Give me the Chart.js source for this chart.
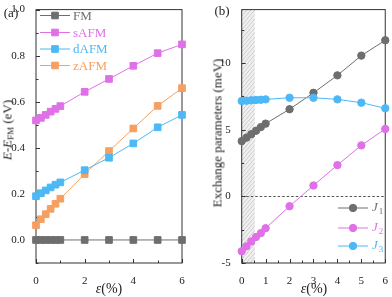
<!DOCTYPE html>
<html>
<head>
<meta charset="utf-8">
<script src="https://cdn.jsdelivr.net/npm/chart.js@4"></script>
<style>
body { margin: 0; background: #fff; width: 392px; height: 297px; overflow: hidden; position: relative; font-family: "Liberation Serif", serif; }
canvas { position: absolute; top: 0; }
#chartA { left: 0; }
#chartB { left: 196px; }
.t { position: absolute; font-size: 13px; color: #222; white-space: nowrap; transform: translate(-50%, -50%); line-height: 1; }
.rot { transform: translate(-50%, -50%) rotate(-90deg); }
sub { font-size: 9px; vertical-align: -2px; font-style: normal; }
</style>
</head>
<body>
<canvas id="chartA" width="196" height="297"></canvas>
<canvas id="chartB" width="196" height="297"></canvas>
<div class="t" style="left:11px;top:12px">(a)</div>
<div class="t" style="left:222px;top:10px">(b)</div>
<div class="t rot" style="left:8px;top:130px"><i>E</i>-<i>E</i><sub>FM</sub> (eV)</div>
<div class="t rot" style="left:217px;top:133px">Exchange parameters (meV)</div>
<div class="t" style="left:109px;top:289px;font-size:14px"><i>ε</i>(%)</div>
<div class="t" style="left:314px;top:289px;font-size:14px"><i>ε</i>(%)</div>
<script>
// strain values (%)
let strain = [0, 0.2, 0.4, 0.6, 0.8, 1, 2, 3, 4, 5, 6]
// (a) energy relative to FM (eV)
let fmE = [0, 0, 0, 0, 0, 0, 0, 0, 0, 0, 0]
let safmE = [0.519, 0.530, 0.543, 0.557, 0.569, 0.581, 0.643, 0.699, 0.756, 0.811, 0.849]
let dafmE = [0.190, 0.203, 0.215, 0.228, 0.240, 0.250, 0.303, 0.357, 0.419, 0.489, 0.543]
let zafmE = [0.064, 0.090, 0.112, 0.135, 0.157, 0.179, 0.286, 0.386, 0.484, 0.582, 0.659]
// (b) exchange parameters (meV)
let j1 = [4.14, 4.40, 4.66, 4.92, 5.19, 5.45, 6.53, 7.76, 9.07, 10.55, 11.70]
let j2 = [-4.12, -3.75, -3.38, -3.05, -2.76, -2.39, -0.74, 0.81, 2.34, 3.82, 5.05]
let j3 = [7.15, 7.17, 7.20, 7.22, 7.24, 7.27, 7.39, 7.39, 7.27, 7.02, 6.60]
let namesA = ['FM', 'sAFM', 'dAFM', 'zAFM']
let namesB = ['1', '2', '3']
let hatchEnd = 0.55

let gray = '#6e6e6e', pink = '#e070e8', blue = '#4cb8f5', orange = '#f5a060'
let tickFont = { family: 'Liberation Serif', size: 11 }

function pts(ys) {
    return ys.map((y, i) => ({ x: strain[i], y: y }))
}

function series(label, ys, color, style, r, order) {
    return {
        label: label, data: pts(ys), borderColor: color, backgroundColor: color,
        borderWidth: 1, pointStyle: style, pointRadius: r, pointHoverRadius: r,
        pointBorderWidth: 1, clip: false, order: order
    }
}

// frame plus inward tick marks
let frame = {
    id: 'frame',
    beforeDatasetsDraw(chart) {
        let { ctx, chartArea: a, scales } = chart
        ctx.save()
        ctx.strokeStyle = '#333'
        ctx.lineWidth = 1
        ctx.strokeRect(a.left, a.top, a.right - a.left, a.bottom - a.top)
        ctx.beginPath()
        scales.x.ticks.forEach(t => {
            let px = Math.round(scales.x.getPixelForValue(t.value)) + 0.5
            ctx.moveTo(px, a.bottom)
            ctx.lineTo(px, a.bottom - (t.label ? 4 : 2.5))
        })
        scales.y.ticks.forEach(t => {
            let py = Math.round(scales.y.getPixelForValue(t.value)) + 0.5
            ctx.moveTo(a.left, py)
            ctx.lineTo(a.left + (t.label ? 4 : 2.5), py)
        })
        ctx.stroke()
        ctx.restore()
    }
}

// hatched region and zero line for panel b
let shade = {
    id: 'shade',
    beforeDatasetsDraw(chart) {
        let { ctx, chartArea: a, scales: { x, y } } = chart
        let x0 = x.getPixelForValue(0), x1 = x.getPixelForValue(hatchEnd)
        ctx.save()
        ctx.fillStyle = '#f0f0f0'
        ctx.fillRect(x0, a.top, x1 - x0, a.bottom - a.top)
        ctx.beginPath()
        ctx.rect(x0, a.top, x1 - x0, a.bottom - a.top)
        ctx.clip()
        ctx.strokeStyle = '#bdbdbd'
        ctx.lineWidth = 0.7
        ctx.beginPath()
        for (let s = a.top - 20; s < a.bottom + 20; s += 4.5) {
            ctx.moveTo(x0 - 2, s + 20)
            ctx.lineTo(x1 + 2, s)
        }
        ctx.stroke()
        ctx.restore()
        ctx.save()
        let py = Math.round(y.getPixelForValue(0)) + 0.5
        ctx.strokeStyle = '#555'
        ctx.lineWidth = 1.2
        ctx.setLineDash([2.5, 2])
        ctx.beginPath()
        ctx.moveTo(a.left, py)
        ctx.lineTo(a.right, py)
        ctx.stroke()
        ctx.restore()
    }
}

// legend drawn in the canvas, line + marker + coloured label
let legendBox = {
    id: 'legendBox',
    afterDatasetsDraw(chart, args, opts) {
        let ctx = chart.ctx
        ctx.save()
        opts.rows.forEach((row, i) => {
            let ds = chart.data.datasets[i]
            let yy = row.y
            ctx.strokeStyle = ds.borderColor
            ctx.lineWidth = 1
            ctx.beginPath()
            ctx.moveTo(opts.x0, yy)
            ctx.lineTo(opts.x1, yy)
            ctx.stroke()
            ctx.fillStyle = ds.backgroundColor
            Chart.helpers.drawPoint(ctx, { pointStyle: ds.pointStyle, radius: ds.pointRadius, borderWidth: 1, rotation: 0 }, (opts.x0 + opts.x1) / 2, yy)
            ctx.fillStyle = ds.borderColor
            ctx.textBaseline = 'middle'
            ctx.textAlign = 'left'
            if (opts.sub) {
                ctx.font = 'italic 13px "Liberation Serif"'
                ctx.fillText('J', opts.x1 + 4, yy)
                let w = ctx.measureText('J').width
                ctx.font = '9px "Liberation Serif"'
                ctx.fillText(row.text, opts.x1 + 4 + w + 1, yy + 4)
            } else {
                ctx.font = '13px "Liberation Serif"'
                ctx.fillText(row.text, opts.x1 + 3, yy + 1)
            }
        })
        ctx.restore()
    }
}

function axes(xOpts, yOpts, yWidth) {
    return {
        x: Object.assign({
            type: 'linear', min: 0, max: 6,
            grid: { display: false }, border: { display: false },
            afterFit: s => { s.height = 34 }
        }, xOpts),
        y: Object.assign({
            type: 'linear',
            grid: { display: false }, border: { display: false },
            afterFit: s => { s.width = yWidth }
        }, yOpts)
    }
}

let chartA = new Chart(document.querySelector('#chartA'), {
    type: 'line',
    data: {
        datasets: [
            series('FM', fmE, gray, 'rect', 4.7, 3),
            series('sAFM', safmE, pink, 'rect', 4.7, 2),
            series('dAFM', dafmE, blue, 'rect', 4.7, 0),
            series('zAFM', zafmE, orange, 'rect', 4.7, 1)
        ]
    },
    options: {
        responsive: false, animation: false, devicePixelRatio: 1,
        layout: { padding: { left: 0, right: 14, top: 6, bottom: 0 } },
        plugins: {
            legend: { display: false }, tooltip: { enabled: false },
            legendBox: {
                x0: 40, x1: 70,
                rows: namesA.map((n, i) => ({ text: n, y: [15.5, 32.5, 49, 65.5][i] }))
            }
        },
        scales: axes(
            { ticks: { stepSize: 1, autoSkip: false, maxRotation: 0, padding: 4, font: tickFont, color: '#222',
                callback: v => (v % 2 === 0 ? String(v) : '') } },
            { min: -0.1, max: 1.0, ticks: { stepSize: 0.1, includeBounds: false, autoSkip: false, padding: 3, font: tickFont, color: '#222',
                callback: v => (v >= 0 && Math.round(v * 10) % 2 === 0 ? v.toFixed(1) : '') } },
            36)
    },
    plugins: [frame, legendBox]
})

let chartB = new Chart(document.querySelector('#chartB'), {
    type: 'line',
    data: {
        datasets: [
            series('J1', j1, gray, 'circle', 3.7, 2),
            series('J2', j2, pink, 'circle', 3.7, 1),
            series('J3', j3, blue, 'circle', 3.7, 0)
        ]
    },
    options: {
        responsive: false, animation: false, devicePixelRatio: 1,
        layout: { padding: { left: 0, right: 5.5, top: 5, bottom: 0 } },
        plugins: {
            legend: { display: false }, tooltip: { enabled: false },
            legendBox: {
                x0: 142, x1: 172, sub: true,
                rows: namesB.map((n, i) => ({ text: n, y: [208, 228, 246][i] }))
            }
        },
        scales: axes(
            { ticks: { stepSize: 0.5, autoSkip: false, maxRotation: 0, padding: 4, font: tickFont, color: '#222',
                callback: v => (v % 1 === 0 ? String(v) : '') } },
            { min: -5, max: 14, ticks: { stepSize: 2.5, includeBounds: false, autoSkip: false, padding: 3, font: tickFont, color: '#222',
                callback: v => (v % 5 === 0 ? String(v) : '') } },
            45.7)
    },
    plugins: [shade, frame, legendBox]
})
</script>
</body>
</html>
